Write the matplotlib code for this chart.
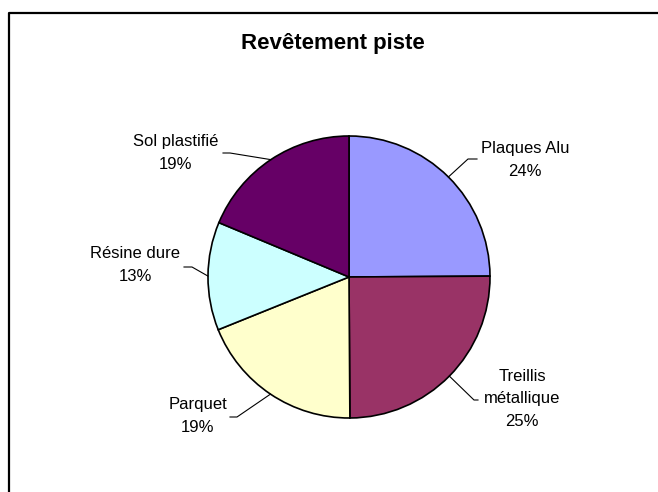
import matplotlib
matplotlib.use('Agg')
import matplotlib.pyplot as plt
import numpy as np

# Data (slice sizes, labels as printed on the chart)
categories = ['Plaques Alu', 'Treillis\nmétallique', 'Parquet', 'Résine dure', 'Sol plastifié']
shares = [24.9, 25.0, 19.0, 12.4, 18.7]
pct_labels = ['24%', '25%', '19%', '13%', '19%']
colors = ['#9999FF', '#993366', '#FFFFCC', '#CCFFFF', '#660066']
title = 'Revêtement piste'

plt.rcParams['font.family'] = ['Liberation Sans', 'DejaVu Sans']

W, H = 658, 492
fig = plt.figure(figsize=(W / 100, H / 100), dpi=100)
ax = fig.add_axes([0, 0, 1, 1])

# pixel helper (image coords -> data coords)
def px(x, y):
    return x, H - y

cx, cy = px(349, 277)
r = 141
wedges, _ = ax.pie(shares, colors=colors, startangle=90, counterclock=False,
                   center=(cx, cy), radius=r, frame=True,
                   wedgeprops=dict(edgecolor='black', linewidth=1.2))
ax.set_xlim(0, W)
ax.set_ylim(0, H)
ax.axis('off')

# label layout: (text centre, elbow point, line end), in image pixels
layout = [
    ((525, 160), (468, 159), (477, 159)),
    ((522, 399), (474, 400), (478, 400)),
    ((198, 416), (237, 417), (230, 417)),
    ((135, 265), (192, 267), (184, 267)),
    ((176, 153), (230, 153), (223, 153)),
]

for w, name, pct, (tpos, elbow, end) in zip(wedges, categories, pct_labels, layout):
    mid = np.deg2rad((w.theta1 + w.theta2) / 2)
    ex, ey = cx + r * np.cos(mid), cy + r * np.sin(mid)
    xs = [ex, px(*elbow)[0], px(*end)[0]]
    ys = [ey, px(*elbow)[1], px(*end)[1]]
    ax.plot(xs, ys, color='black', lw=0.8)
    ax.text(*px(*tpos), f'{name}\n{pct}', ha='center', va='center',
            fontsize=12, linespacing=1.6)

ax.text(*px(333, 43), title, ha='center', va='center', fontsize=16,
        fontweight='bold')

# chart area border (continues past right and bottom edges)
bx, by = px(9, 13)
ax.plot([bx, bx, W + 5], [-5, by, by], color='black', lw=1.6, clip_on=False)

fig.savefig('out.png', dpi=100)
